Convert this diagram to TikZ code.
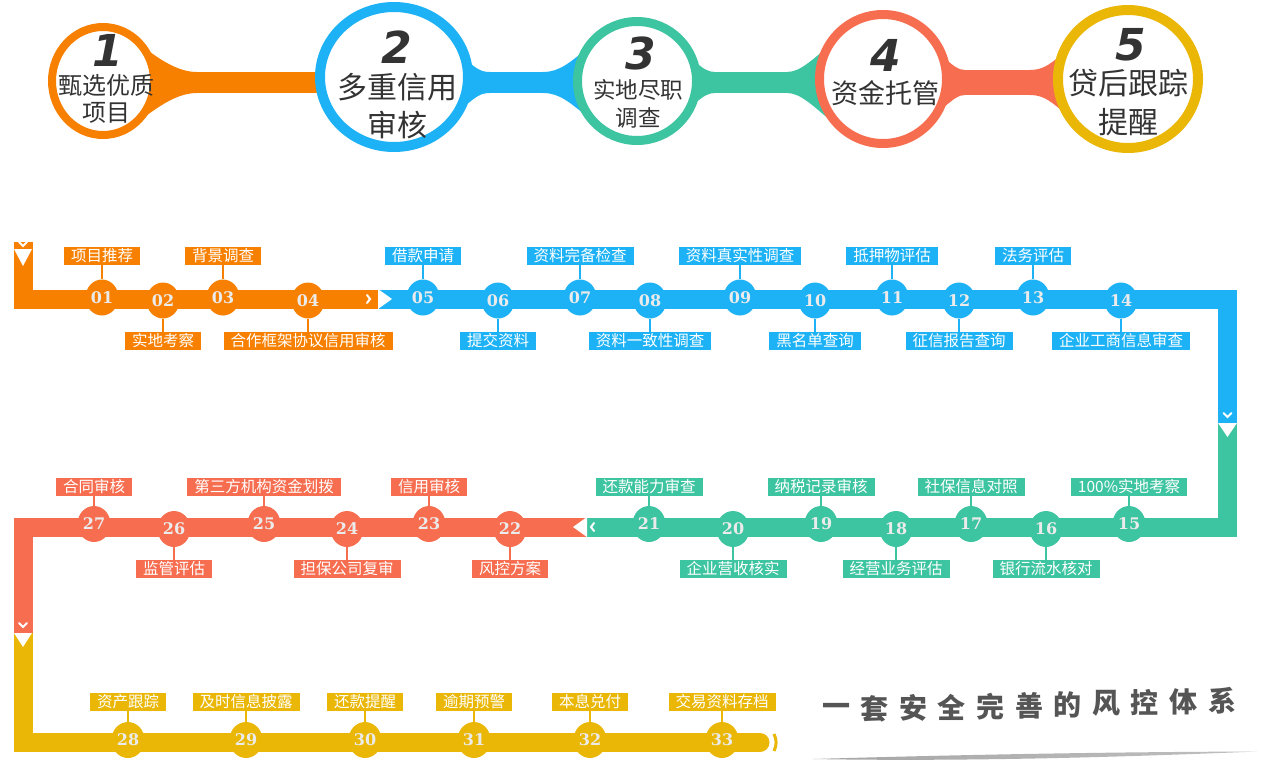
\documentclass[tikz,border=0pt]{standalone}
\usepackage{fontspec}
\newfontfamily\cjk{Noto Sans CJK SC}
\newfontfamily\numfont{DejaVu Serif}
\newfontfamily\bignum{DejaVu Sans}
\usepackage{tikz}
\usetikzlibrary{
  calc,
  positioning,
  shapes.geometric,
  backgrounds
}
\definecolor{cOrange}{RGB}{248,128,0}
\definecolor{cBlue}{RGB}{29,178,245}
\definecolor{cTeal}{RGB}{61,196,161}
\definecolor{cRed}{RGB}{247,109,79}
\definecolor{cYellow}{RGB}{234,183,6}
\definecolor{cText}{RGB}{51,51,51}
\definecolor{cSlogan}{RGB}{85,85,85}
\tikzset{
  line join=round,
  stage/.style={draw=#1, fill=white, ellipse, inner sep=0pt},
  bigno/.style={text=cText, font=\bignum\bfseries\itshape\fontsize{44}{44}\selectfont},
  stagetext/.style={text=cText, align=center},
  bandline/.style={draw=#1, line width=21pt, line cap=butt},
  track/.style={draw=#1, line width=19pt, line cap=butt, line join=miter},
  dot/.style={ellipse, fill=#1, minimum width=33pt, minimum height=36pt, inner sep=0pt,
    text=white!92!black, font=\numfont\bfseries\fontsize{16}{16}\selectfont},
  lab/.style={fill=#1, text=white, inner xsep=7pt, inner ysep=0pt, minimum height=18pt,
    font=\cjk\fontsize{15.5}{16}\selectfont},
  stem/.style={draw=#1, line width=2pt},
  notchmark/.style={draw=white, line width=2pt, line cap=round, line join=miter},
  slogan/.style={text=cSlogan, font=\cjk\bfseries\fontsize{28}{28}\selectfont}
}

\begin{document}
\begin{tikzpicture}[x=1pt, y=-1pt]
  \useasboundingbox (0,0) rectangle (1261,763);

  % five stages on top
  \node[stage=cOrange, line width=8pt, minimum width=102pt, minimum height=108pt] (s1) at (103,81) {};
  \node[stage=cBlue, line width=10pt, minimum width=148pt, minimum height=140pt] (s2) at (394,77) {};
  \node[stage=cTeal, line width=9pt, minimum width=119pt, minimum height=119pt] (s3) at (637,81) {};
  \node[stage=cRed, line width=9pt, minimum width=127pt, minimum height=129pt] (s4) at (883,79) {};
  \node[stage=cYellow, line width=10pt, minimum width=140pt, minimum height=138pt] (s5) at (1128,79) {};

  \node[bigno] (n1) at (108,50) {1};
  \node[bigno] (n2) at (397,47) {2};
  \node[bigno] (n3) at (641,53) {3};
  \node[bigno] (n4) at (886,55) {4};
  \node[bigno] (n5) at (1131,45) {5};

  \node[stagetext, font=\cjk\fontsize{24}{27}\selectfont] (t1) at (106,98.5) {甄选优质\\项目};
  \node[stagetext, font=\cjk\fontsize{30}{38}\selectfont] (t2) at (397,106) {多重信用\\审核};
  \node[stagetext, font=\cjk\fontsize{22.5}{28}\selectfont] (t3) at (638,104) {实地尽职\\调查};
  \node[stagetext, font=\cjk\fontsize{27}{27}\selectfont] (t4) at (885,93) {资金托管};
  \node[stagetext, font=\cjk\fontsize{30}{39}\selectfont] (t5) at (1128,102.5) {贷后跟踪\\提醒};

  \begin{scope}[on background layer]
    \fill[white] (0,0) rectangle (1261,763);
    \coordinate (bandy) at (0,82.5);
    \draw[bandline=cOrange] (s1 |- bandy) -- (s2 |- bandy);
    \draw[bandline=cBlue] (s2 |- bandy) -- (s3 |- bandy);
    \draw[bandline=cTeal] (s3 |- bandy) -- (s4 |- bandy);
    \draw[bandline=cRed, line width=25pt] (s4 |- bandy) -- (s5 |- bandy);
    % flares
    \fill[cOrange] (197,72) .. controls (178,72) and (160,60) .. (138,43) -- (138,122)
      .. controls (160,105) and (178,93) .. (197,93) -- cycle;
    \fill[cBlue] (543,72) .. controls (560,72) and (570,62) .. (588,48) -- (588,117)
      .. controls (570,103) and (560,93) .. (543,93) -- cycle;
    \fill[cTeal] (787,72) .. controls (800,72) and (812,60) .. (830,45) -- (830,120)
      .. controls (812,105) and (800,93) .. (787,93) -- cycle;
    \fill[cRed] (1030,70) .. controls (1045,70) and (1052,62) .. (1065,52) -- (1065,113)
      .. controls (1052,103) and (1045,95) .. (1030,95) -- cycle;
    \fill[cBlue] (490,72) .. controls (480,72) and (476,68) .. (466,60) -- (466,105)
      .. controls (476,97) and (480,93) .. (490,93) -- cycle;
    \fill[cTeal] (715,72) .. controls (708,72) and (704,69) .. (695,62) -- (695,103)
      .. controls (704,96) and (708,93) .. (715,93) -- cycle;
    \fill[cRed] (965,70) .. controls (958,70) and (954,66) .. (944,58) -- (944,107)
      .. controls (954,99) and (958,95) .. (965,95) -- cycle;
  \end{scope}

  % the winding track
  \draw[track=cOrange] (23,242) -- (23,299) -- (378,299);
  \draw[track=cBlue] (379,299) -- (1227.5,299) -- (1227.5,423);
  \draw[track=cTeal] (1227.5,423) -- (1227.5,527) -- (586,527);
  \draw[track=cRed] (586,527) -- (23,527) -- (23,633);
  \draw[track=cYellow] (23,633) -- (23,742.5) -- (760,742.5);
  \fill[cYellow] (760,742.5) circle (9.5);
  \draw[cYellow, line width=3pt] (774,734) to[bend left=25] (774,751);

  % white notches where the colours change
  \fill[white] (14,249) -- (32,249) -- (23,266) -- cycle;
  \draw[notchmark] (19,242) -- (23,246) -- (27,242);
  \fill[white] (378,289) -- (392,299) -- (378,309) -- cycle;
  \draw[notchmark] (367,295) -- (370,299) -- (367,303);
  \fill[white] (1218,423) -- (1237,423) -- (1227.5,437) -- cycle;
  \draw[notchmark] (1223.5,413) -- (1227.5,417) -- (1231.5,413);
  \fill[white] (587,517) -- (573,527) -- (587,537) -- cycle;
  \draw[notchmark] (594,523) -- (591,527) -- (594,531);
  \fill[white] (14,633) -- (32,633) -- (23,647) -- cycle;
  \draw[notchmark] (19,623) -- (23,627) -- (27,623);

  % row 1
  \foreach \n/\x/\col/\t in {01/102/cOrange/项目推荐, 03/223/cOrange/背景调查,
      05/423/cBlue/借款申请, 07/580/cBlue/资料完备检查, 09/740/cBlue/资料真实性调查,
      11/892/cBlue/抵押物评估, 13/1033/cBlue/法务评估}{
    \node[dot=\col] (c\n) at (\x,297.5) {\n};
    \node[lab=\col] (l\n) at (\x,256) {\t};
    \draw[stem=\col] (l\n) -- (c\n);
  }
  \foreach \n/\x/\col/\t in {02/163/cOrange/实地考察, 04/308/cOrange/合作框架协议信用审核,
      06/498/cBlue/提交资料, 08/650/cBlue/资料一致性调查, 10/815/cBlue/黑名单查询,
      12/959/cBlue/征信报告查询, 14/1121/cBlue/企业工商信息审查}{
    \node[dot=\col] (c\n) at (\x,300.5) {\n};
    \node[lab=\col] (l\n) at (\x,341) {\t};
    \draw[stem=\col] (l\n) -- (c\n);
  }

  % row 2
  \foreach \n/\x/\col/\t in {15/1129/cTeal/100\%实地考察, 17/971/cTeal/社保信息对照,
      19/821/cTeal/纳税记录审核, 21/649/cTeal/还款能力审查, 23/429/cRed/信用审核,
      25/264/cRed/第三方机构资金划拨, 27/94/cRed/合同审核}{
    \node[dot=\col] (c\n) at (\x,524) {\n};
    \node[lab=\col] (l\n) at (\x,487) {\t};
    \draw[stem=\col] (l\n) -- (c\n);
  }
  \foreach \n/\x/\col/\t in {16/1046/cTeal/银行流水核对, 18/896/cTeal/经营业务评估,
      20/733/cTeal/企业营收核实, 22/510/cRed/风控方案, 24/347/cRed/担保公司复审,
      26/174/cRed/监管评估}{
    \node[dot=\col] (c\n) at (\x,529) {\n};
    \node[lab=\col] (l\n) at (\x,569) {\t};
    \draw[stem=\col] (l\n) -- (c\n);
  }

  % row 3
  \foreach \n/\x/\t in {28/128/资产跟踪, 29/246/及时信息披露, 30/365/还款提醒,
      31/474/逾期预警, 32/590/本息兑付, 33/722/交易资料存档}{
    \node[dot=cYellow] (c\n) at (\x,740) {\n};
    \node[lab=cYellow] (l\n) at (\x,702) {\t};
    \draw[stem=cYellow] (l\n) -- (c\n);
  }

  % slogan
  \foreach \c [count=\i from 0] in {一,套,安,全,完,善,的,风,控,体,系}
    \node[slogan] (g\i) at ({836+38.6*\i},{710-0.9*\i}) {\c};
  \shade[left color=black!35, middle color=black!95, right color=black!25]
    (813,759) .. controls (950,755) and (1100,752) .. (1257,751.5)
    .. controls (1100,758) and (950,761.5) .. (813,759) -- cycle;
\end{tikzpicture}
\end{document}
